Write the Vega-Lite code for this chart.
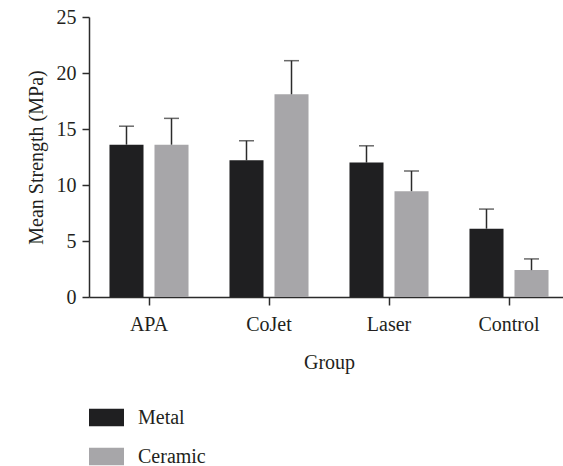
{
  "$schema": "https://vega.github.io/schema/vega-lite/v6.json",
  "width": 469,
  "height": 280,
  "autosize": {"type": "none"},
  "padding": {"left": 89, "top": 17, "right": 5, "bottom": 169},
  "background": "white",
  "config": {
    "view": {"stroke": null},
    "font": "Liberation Serif",
    "axis": {
      "domainColor": "#2b2b2b",
      "domainWidth": 1.5,
      "tickColor": "#2b2b2b",
      "tickWidth": 1.5,
      "tickSize": 7,
      "labelFont": "Liberation Serif",
      "labelFontSize": 20,
      "labelColor": "#231f20",
      "titleFont": "Liberation Serif",
      "titleFontSize": 20,
      "titleFontWeight": "normal",
      "titleColor": "#231f20",
      "grid": false
    },
    "legend": {
      "labelFont": "Liberation Serif",
      "labelFontSize": 20,
      "labelColor": "#231f20"
    }
  },
  "data": {
    "values": [
      {"group": "APA", "material": "Metal", "mean": 13.6, "upper": 15.25},
      {"group": "APA", "material": "Ceramic", "mean": 13.6, "upper": 15.95},
      {"group": "CoJet", "material": "Metal", "mean": 12.2, "upper": 13.95},
      {"group": "CoJet", "material": "Ceramic", "mean": 18.1, "upper": 21.1},
      {"group": "Laser", "material": "Metal", "mean": 12.0, "upper": 13.5},
      {"group": "Laser", "material": "Ceramic", "mean": 9.45, "upper": 11.25},
      {"group": "Control", "material": "Metal", "mean": 6.1, "upper": 7.85},
      {"group": "Control", "material": "Ceramic", "mean": 2.4, "upper": 3.4}
    ]
  },
  "encoding": {
    "x": {
      "field": "group",
      "type": "nominal",
      "sort": ["APA", "CoJet", "Laser", "Control"],
      "scale": {"range": [0, 480], "paddingInner": 0, "paddingOuter": 0},
      "axis": {"labelAngle": 0, "title": "Group", "tickSize": 8, "labelPadding": 9, "titlePadding": 18}
    },
    "xOffset": {
      "field": "material",
      "type": "nominal",
      "sort": ["Metal", "Ceramic"],
      "scale": {"paddingInner": 0.244, "paddingOuter": 0.455}
    }
  },
  "layer": [
    {
      "mark": {"type": "bar"},
      "encoding": {
        "y": {
          "field": "mean",
          "type": "quantitative",
          "scale": {"domain": [0, 25], "nice": false},
          "axis": {"values": [0, 5, 10, 15, 20, 25], "title": "Mean Strength (MPa)", "labelPadding": 6, "titlePadding": 10}
        },
        "color": {
          "field": "material",
          "type": "nominal",
          "sort": ["Metal", "Ceramic"],
          "scale": {"domain": ["Metal", "Ceramic"], "range": ["#1f1f21", "#a7a6a9"]},
          "legend": {
            "title": null,
            "orient": "none",
            "legendX": 0,
            "legendY": 383,
            "symbolType": "M-1,-0.5H1V0.5H-1Z",
            "symbolSize": 1225,
            "symbolStrokeWidth": 0,
            "rowPadding": 11,
            "labelOffset": 14
          }
        }
      }
    },
    {
      "mark": {"type": "rule", "color": "#2b2b2b", "strokeWidth": 1.5},
      "encoding": {
        "y": {"field": "mean", "type": "quantitative"},
        "y2": {"field": "upper"}
      }
    },
    {
      "mark": {"type": "tick", "color": "#2b2b2b", "thickness": 1.5, "size": 15, "orient": "horizontal"},
      "encoding": {
        "y": {"field": "upper", "type": "quantitative"}
      }
    }
  ]
}
